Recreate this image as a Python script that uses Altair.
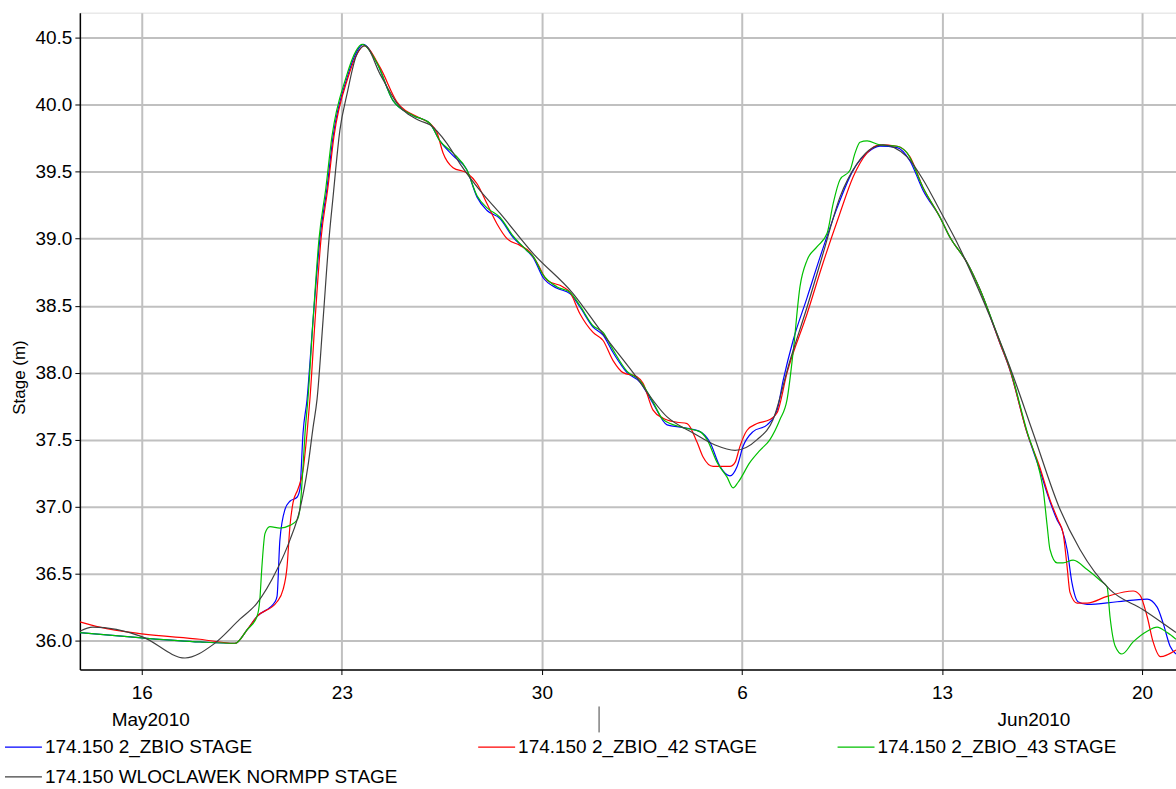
import altair as alt
import pandas as pd

# Day numbers counted in May 2010 (32 = 1 June), stage values in m
blue_day = [13.83, 16.00, 18.03, 19.26, 19.68, 20.03, 20.66, 20.73, 20.83, 21.01, 21.18, 21.43, 21.53, 21.64, 21.78,
            21.99, 22.23, 22.48, 22.69, 23.18, 23.53, 23.74, 24.23, 24.79, 25.49, 26.08, 26.43, 26.89, 27.38, 27.73,
            28.08, 28.53, 28.99, 29.48, 29.69, 30.04, 30.53, 30.98, 31.33, 31.79, 32.14, 32.49, 32.98, 33.43, 33.89,
            34.38, 34.94, 35.53, 35.88, 36.23, 36.58, 36.83, 37.04, 37.39, 37.88, 38.23, 38.44, 38.79, 39.28, 39.73,
            40.33, 40.89, 41.38, 41.83, 42.43, 42.88, 43.34, 43.93, 44.28, 44.88, 45.33, 46.03, 46.38, 46.98, 47.43,
            47.68, 48.03, 48.20, 48.38, 48.55, 48.76, 49.08, 50.13, 51.18, 51.53, 51.74, 51.98, 52.19]
blue_val = [36.06, 36.02, 35.99, 35.98, 36.08, 36.18, 36.29, 36.33, 36.75, 36.98, 37.04, 37.07, 37.13, 37.55, 37.80,
            38.39, 39.00, 39.38, 39.76, 40.20, 40.40, 40.45, 40.31, 40.03, 39.92, 39.86, 39.73, 39.62, 39.51, 39.31,
            39.21, 39.15, 39.01, 38.91, 38.86, 38.71, 38.63, 38.59, 38.49, 38.34, 38.28, 38.15, 38.00, 37.93, 37.77,
            37.61, 37.59, 37.56, 37.48, 37.30, 37.23, 37.30, 37.45, 37.56, 37.61, 37.72, 37.94, 38.24, 38.56, 38.86,
            39.23, 39.51, 39.64, 39.69, 39.68, 39.58, 39.36, 39.16, 39.01, 38.82, 38.62, 38.22, 38.02, 37.55, 37.27,
            37.10, 36.90, 36.83, 36.68, 36.43, 36.29, 36.27, 36.29, 36.31, 36.25, 36.13, 35.96, 35.90]

red_day = [13.83, 14.53, 16.00, 18.03, 19.26, 19.68, 20.03, 20.73, 20.94, 21.08, 21.18, 21.29, 21.46, 21.64, 21.78,
           21.88, 22.06, 22.27, 22.51, 22.72, 23.21, 23.56, 23.77, 24.33, 24.93, 25.73, 26.08, 26.33, 26.54, 26.89,
           27.38, 27.73, 28.08, 28.43, 28.78, 29.23, 29.58, 29.83, 30.18, 30.74, 30.98, 31.33, 31.79, 32.14, 32.49,
           32.84, 33.33, 33.54, 33.89, 34.24, 34.73, 35.08, 35.43, 35.64, 35.99, 36.58, 36.76, 36.93, 37.18, 37.53,
           37.98, 38.23, 38.58, 39.28, 39.84, 40.43, 40.89, 41.38, 41.83, 42.43, 42.88, 43.34, 43.93, 44.28, 44.88,
           45.33, 46.03, 46.38, 46.98, 47.43, 47.78, 48.06, 48.24, 48.38, 48.48, 48.73, 49.08, 49.78, 50.69, 50.93,
           51.18, 51.39, 51.64, 52.19]
red_val = [36.14, 36.10, 36.05, 36.01, 35.98, 36.08, 36.18, 36.29, 36.38, 36.55, 36.85, 37.03, 37.13, 37.27, 37.55,
           37.80, 38.39, 39.00, 39.38, 39.76, 40.20, 40.39, 40.44, 40.28, 40.02, 39.90, 39.86, 39.79, 39.64, 39.53,
           39.49, 39.41, 39.26, 39.11, 39.00, 38.95, 38.90, 38.82, 38.69, 38.64, 38.60, 38.44, 38.30, 38.24, 38.09,
           38.00, 37.97, 37.92, 37.72, 37.66, 37.63, 37.62, 37.48, 37.37, 37.30, 37.30, 37.33, 37.45, 37.57, 37.62,
           37.65, 37.70, 38.00, 38.44, 38.82, 39.19, 39.46, 39.64, 39.70, 39.69, 39.61, 39.38, 39.16, 39.01, 38.82,
           38.62, 38.22, 38.02, 37.55, 37.29, 37.05, 36.90, 36.80, 36.55, 36.36, 36.28, 36.28, 36.33, 36.37, 36.34,
           36.18, 35.99, 35.88, 35.93]

green_day = [13.83, 16.00, 18.03, 19.26, 19.68, 20.03, 20.13, 20.20, 20.31, 20.48, 20.83, 21.18, 21.43, 21.53, 21.64,
             21.71, 21.81, 21.99, 22.20, 22.44, 22.65, 23.14, 23.49, 23.70, 24.23, 24.79, 25.49, 26.08, 26.43, 26.89,
             27.38, 27.73, 28.08, 28.53, 28.99, 29.48, 29.69, 30.04, 30.53, 30.98, 31.33, 31.79, 32.14, 32.49, 32.98,
             33.43, 33.89, 34.24, 34.94, 35.53, 35.78, 36.13, 36.48, 36.69, 36.86, 37.28, 37.63, 37.98, 38.33, 38.58,
             38.79, 39.03, 39.28, 39.63, 39.98, 40.19, 40.43, 40.78, 40.96, 41.13, 41.38, 41.83, 42.43, 42.78, 43.34,
             43.93, 44.28, 44.88, 45.33, 46.03, 46.38, 46.98, 47.43, 47.54, 47.68, 47.78, 48.03, 48.24, 48.59, 49.08,
             49.53, 49.78, 49.88, 50.06, 50.30, 50.69, 51.18, 51.53, 51.88, 52.19]
green_val = [36.06, 36.02, 35.99, 35.98, 36.08, 36.18, 36.31, 36.55, 36.80, 36.85, 36.84, 36.86, 36.90, 36.98, 37.30,
             37.55, 37.80, 38.39, 39.00, 39.38, 39.76, 40.20, 40.40, 40.45, 40.31, 40.03, 39.92, 39.86, 39.73, 39.64,
             39.51, 39.32, 39.23, 39.16, 39.02, 38.91, 38.87, 38.73, 38.64, 38.60, 38.50, 38.35, 38.30, 38.17, 38.01,
             37.94, 37.78, 37.65, 37.59, 37.56, 37.50, 37.33, 37.22, 37.14, 37.18, 37.33, 37.42, 37.50, 37.65, 37.80,
             38.15, 38.64, 38.84, 38.94, 39.04, 39.26, 39.44, 39.51, 39.64, 39.72, 39.73, 39.70, 39.69, 39.64, 39.38,
             39.16, 39.01, 38.82, 38.62, 38.23, 38.03, 37.56, 37.25, 37.13, 36.86, 36.68, 36.58, 36.58, 36.60, 36.53,
             36.45, 36.40, 36.18, 35.96, 35.90, 35.99, 36.07, 36.10, 36.06, 36.01]

gray_day = [13.83, 14.28, 16.00, 17.51, 18.49, 19.43, 20.03, 20.73, 21.18, 21.53, 21.81, 21.99, 22.13, 22.34, 22.55,
            22.69, 22.93, 23.18, 23.53, 23.81, 24.33, 24.93, 25.73, 26.08, 26.68, 27.13, 27.83, 28.53, 29.69, 31.09,
            32.03, 33.19, 34.38, 35.29, 36.06, 36.76, 37.53, 38.09, 38.68, 39.28, 39.84, 40.43, 41.03, 41.59, 41.94,
            42.78, 43.34, 43.93, 44.53, 45.44, 46.38, 47.19, 48.13, 48.83, 49.88, 51.04, 52.19]
gray_val = [36.07, 36.10, 36.03, 35.87, 35.97, 36.16, 36.28, 36.53, 36.75, 36.98, 37.30, 37.59, 37.80, 38.39, 39.00,
            39.31, 39.81, 40.08, 40.38, 40.44, 40.23, 40.01, 39.88, 39.85, 39.71, 39.56, 39.36, 39.19, 38.89, 38.59,
            38.32, 38.00, 37.67, 37.55, 37.46, 37.42, 37.50, 37.65, 38.09, 38.49, 38.89, 39.31, 39.56, 39.68, 39.70,
            39.61, 39.44, 39.21, 38.97, 38.54, 38.04, 37.55, 36.98, 36.68, 36.38, 36.23, 36.06]

series_names = ["174.150 2_ZBIO STAGE", "174.150 2_ZBIO_42 STAGE", "174.150 2_ZBIO_43 STAGE",
                "174.150 WLOCLAWEK NORMPP STAGE"]
series_colors = ["#0000ff", "#ff0000", "#00c000", "#404040"]

month_labels = ["May2010", "Jun2010"]
month_label_day = [16.31, 47.22]
month_sep_day = [32.0]

base = pd.Timestamp("2010-04-30")


def to_time(days):
    return [base + pd.to_timedelta(d, unit="D") for d in days]


frames = []
for i, (name, dd, vv) in enumerate(zip(series_names,
                                       [blue_day, red_day, green_day, gray_day],
                                       [blue_val, red_val, green_val, gray_val])):
    frames.append(pd.DataFrame({"t": to_time(dd), "stage": vv, "series": name, "order": i}))
df = pd.concat(frames, ignore_index=True)

months_df = pd.DataFrame({"t": to_time(month_label_day), "label": month_labels})
sep_df = pd.DataFrame({"t": to_time(month_sep_day)})

FONT = "Liberation Sans"
W, H = 1098, 658

xscale = alt.Scale(domain=[alt.DateTime(year=2010, month=5, date=13, hours=19, minutes=55),
                           alt.DateTime(year=2010, month=6, date=21, hours=4, minutes=34)])

xaxis = alt.Axis(
    values=[alt.DateTime(year=2010, month=5, date=16), alt.DateTime(year=2010, month=5, date=23),
            alt.DateTime(year=2010, month=5, date=30), alt.DateTime(year=2010, month=6, date=6),
            alt.DateTime(year=2010, month=6, date=13), alt.DateTime(year=2010, month=6, date=20)],
    format="%-d", title=None, labelFont=FONT, labelFontSize=19, labelColor="#000000",
    labelPadding=9, tickSize=5, tickColor="#000000", domainColor="#000000", domainWidth=1.5,
    gridColor="#c0c0c0", gridWidth=2, labelFlush=False)

yaxis = alt.Axis(
    values=[36.0, 36.5, 37.0, 37.5, 38.0, 38.5, 39.0, 39.5, 40.0, 40.5], format=".1f",
    title="Stage (m)", titleFont=FONT, titleFontSize=17, titleFontWeight="normal", titleColor="#000000",
    titleX=-55, titleY=365, titleBaseline="alphabetic", titleAlign="center",
    labelFont=FONT, labelFontSize=19, labelColor="#000000", labelPadding=3,
    tickSize=5, tickColor="#000000", domainColor="#000000", domainWidth=1.5,
    gridColor="#c0c0c0", gridWidth=2, labelFlush=False)

lines = alt.Chart(df).mark_line(strokeWidth=1.2, interpolate="monotone", clip=True).encode(
    x=alt.X("t:T", scale=xscale, axis=xaxis),
    y=alt.Y("stage:Q", scale=alt.Scale(domain=[35.784, 40.687], nice=False, zero=False), axis=yaxis),
    color=alt.Color("series:N", scale=alt.Scale(domain=series_names, range=series_colors),
                    legend=alt.Legend(title=None, orient="none", legendX=-76, legendY=716,
                                      direction="horizontal", columns=3, gridAlign="each",
                                      columnPadding=77, rowPadding=0, symbolType="stroke",
                                      symbolSize=1369, symbolStrokeWidth=1.2, labelFont=FONT,
                                      labelFontSize=19, labelColor="#000000", labelLimit=600,
                                      labelOffset=2)),
    order=alt.Order("order:Q"),
    detail="series:N",
)

month_text = alt.Chart(months_df).mark_text(font=FONT, fontSize=19, baseline="middle",
                                            align="center", color="#000000").encode(
    x=alt.X("t:T", scale=xscale),
    y=alt.value(H + 51),
    text="label:N",
)

sep_rule = alt.Chart(sep_df).mark_rule(color="#404040", strokeWidth=1).encode(
    x=alt.X("t:T", scale=xscale),
    y=alt.value(H + 37),
    y2=alt.value(H + 63),
)

chart = alt.layer(lines, month_text, sep_rule).properties(
    width=W, height=H,
    autosize=alt.AutoSizeParams(type="none"),
    padding={"left": 80, "top": 12, "right": 0, "bottom": 119},
).configure_view(stroke="#000000", strokeWidth=1.5).configure(background="#ffffff")

chart.save("out.html", embed_options={"renderer": "svg", "actions": False})
